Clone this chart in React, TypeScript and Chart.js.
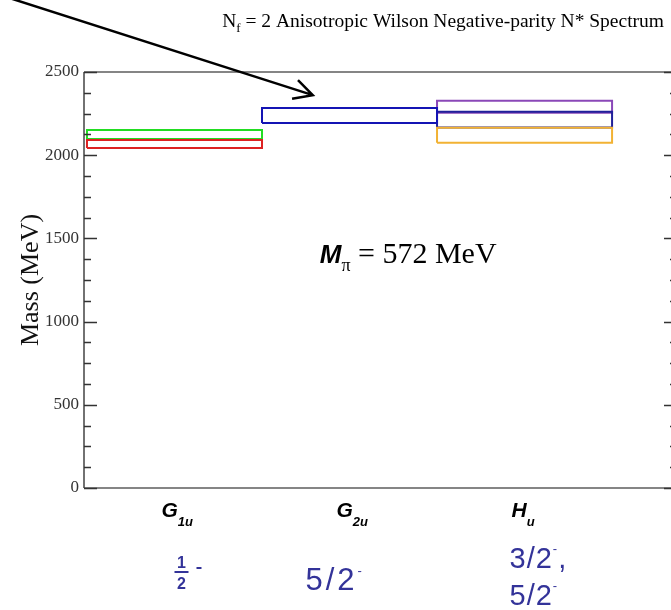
import React, { useEffect, useRef } from 'react';
import { Chart, registerables } from 'chart.js';

Chart.register(...registerables);

// Lattice irreps along the horizontal axis
const irrepPositions = [1, 2, 3];
const irrepLetters = ['G', 'G', 'H'];
const irrepSubscripts = ['1u', '2u', 'u'];

// Continuum spins contained in each irrep
const irrepSpins = [['1/2'], ['5/2'], ['3/2', '5/2']];

// Energy bands: irrep position, lower and upper edge (MeV)
const levelIrrep = [1, 1, 2, 3, 3, 3];
const levelLow = [2043, 2097, 2193, 2075, 2167, 2255];
const levelHigh = [2091, 2151, 2283, 2165, 2261, 2327];
const levelColors = ['#dd2222', '#22dd22', '#1414b4', '#f2b233', '#20209a', '#8a48b8'];

// Mass axis
const massMin = 0;
const massMax = 2500;
const massMajorStep = 500;
const massMinorStep = 125;

// Pion mass shown on the plot and where the annotation sits
const pionMass = 572;
const pionLabelAt = { x: 1.83, y: 1353 };

// Tip of the arrow pointing at the G2u band
const arrowTip = { x: 1.79, y: 2361 };

const xMin = 0.483;
const xMax = 3.871;

const SERIF = "'Liberation Serif', 'DejaVu Serif', serif";
const SANS = "'Liberation Sans', Arial, sans-serif";
const LABEL_BLUE = '#333399';

type Run = { text: string; font: string; dy?: number; color?: string };

function drawRuns(ctx: CanvasRenderingContext2D, runs: Run[], x: number, y: number, align: 'left' | 'center' | 'right' = 'left') {
  let total = 0;
  for (const r of runs) {
    ctx.font = r.font;
    total += ctx.measureText(r.text).width;
  }
  let cx = align === 'center' ? x - total / 2 : align === 'right' ? x - total : x;
  ctx.textAlign = 'left';
  ctx.textBaseline = 'alphabetic';
  for (const r of runs) {
    ctx.font = r.font;
    ctx.fillStyle = r.color || '#000';
    ctx.fillText(r.text, cx, y + (r.dy || 0));
    cx += ctx.measureText(r.text).width;
  }
  return total;
}

const decorations = {
  id: 'decorations',
  afterDraw(chart: any) {
    const { ctx, chartArea: a, scales } = chart;
    const xs = scales.x;
    const ys = scales.y;
    ctx.save();

    // frame
    ctx.lineCap = 'butt';
    ctx.strokeStyle = '#858585';
    ctx.lineWidth = 2;
    ctx.beginPath();
    ctx.moveTo(a.left, a.top);
    ctx.lineTo(a.right, a.top);
    ctx.moveTo(a.left, a.bottom);
    ctx.lineTo(a.right, a.bottom);
    ctx.stroke();
    ctx.strokeStyle = '#444';
    ctx.lineWidth = 1.5;
    ctx.beginPath();
    ctx.moveTo(a.left, a.top);
    ctx.lineTo(a.left, a.bottom);
    ctx.moveTo(a.right, a.top);
    ctx.lineTo(a.right, a.bottom);
    ctx.stroke();

    // inward ticks on both vertical axes
    ctx.strokeStyle = '#333';
    ctx.lineWidth = 1.3;
    ctx.beginPath();
    for (let v = massMin; v <= massMax; v += massMinorStep) {
      const py = Math.round(ys.getPixelForValue(v)) + 0.5;
      const len = v % massMajorStep === 0 ? 13 : 7;
      ctx.moveTo(a.left, py);
      ctx.lineTo(a.left + len, py);
      ctx.moveTo(a.right, py);
      ctx.lineTo(a.right - len, py);
    }
    ctx.stroke();

    // title
    drawRuns(ctx, [
      { text: 'N', font: `19.5px ${SERIF}` },
      { text: 'f', font: `13px ${SERIF}`, dy: 5 },
      { text: ' = 2 Anisotropic Wilson Negative-parity N* Spectrum', font: `19.5px ${SERIF}` },
    ], 664, 27, 'right');

    // pion mass annotation
    drawRuns(ctx, [
      { text: 'M', font: `bold italic 26px ${SANS}` },
      { text: 'π', font: `18px ${SERIF}`, dy: 8 },
      { text: ' = ' + pionMass + ' MeV', font: `30px ${SERIF}` },
    ], xs.getPixelForValue(pionLabelAt.x), ys.getPixelForValue(pionLabelAt.y), 'left');

    // irrep names under the axis
    irrepPositions.forEach((pos, i) => {
      const px = xs.getPixelForValue(pos);
      drawRuns(ctx, [
        { text: irrepLetters[i], font: `bold italic 21px ${SANS}` },
        { text: irrepSubscripts[i], font: `bold italic 13px ${SANS}`, dy: 9 },
      ], px - 13, 517, 'left');
    });

    // spin content of each irrep
    irrepPositions.forEach((pos, i) => {
      const px = xs.getPixelForValue(pos);
      const spins = irrepSpins[i];
      if (i === 0) {
        // stacked fraction
        const [num, den] = spins[0].split('/');
        const cx = px + 7;
        ctx.fillStyle = LABEL_BLUE;
        ctx.font = `bold 16px ${SANS}`;
        ctx.textAlign = 'center';
        ctx.textBaseline = 'alphabetic';
        ctx.fillText(num, cx, 568);
        ctx.fillText(den, cx, 589);
        ctx.fillRect(cx - 7, 571, 14, 2);
        ctx.fillRect(cx + 15, 567, 5, 2);
        return;
      }
      const left = i === 1 ? px - 44 : px - 15;
      const base0 = i === 1 ? 590 : 568;
      const size = i === 1 ? 31 : 29;
      (ctx as any).letterSpacing = i === 1 ? '3px' : '1px';
      spins.forEach((s, k) => {
        const runs: Run[] = [
          { text: s, font: `${size}px ${SANS}`, color: LABEL_BLUE },
          { text: '-', font: `13px ${SANS}`, dy: -15, color: LABEL_BLUE },
        ];
        if (k < spins.length - 1) runs.push({ text: ',', font: `${size}px ${SANS}`, color: LABEL_BLUE });
        drawRuns(ctx, runs, left, base0 + k * 37, 'left');
      });
      (ctx as any).letterSpacing = '0px';
    });

    // arrow from the corner to the G2u band
    const tx = xs.getPixelForValue(arrowTip.x);
    const ty = ys.getPixelForValue(arrowTip.y);
    const sx = 0;
    const sy = -5;
    const ang = Math.atan2(ty - sy, tx - sx);
    const head = 21;
    const spread = 0.48;
    ctx.strokeStyle = '#000';
    ctx.lineWidth = 2.5;
    ctx.lineJoin = 'miter';
    ctx.beginPath();
    ctx.moveTo(sx, sy);
    ctx.lineTo(tx, ty);
    ctx.moveTo(tx - head * Math.cos(ang - spread), ty - head * Math.sin(ang - spread));
    ctx.lineTo(tx, ty);
    ctx.lineTo(tx - head * Math.cos(ang + spread), ty - head * Math.sin(ang + spread));
    ctx.stroke();

    ctx.restore();
  },
};

function bandOutline(i: number) {
  const c = levelIrrep[i];
  const lo = levelLow[i];
  const hi = levelHigh[i];
  return [
    { x: c - 0.5, y: lo },
    { x: c + 0.5, y: lo },
    { x: c + 0.5, y: hi },
    { x: c - 0.5, y: hi },
    { x: c - 0.5, y: lo },
  ];
}

export default function App() {
  const canvasRef = useRef<HTMLCanvasElement | null>(null);

  useEffect(() => {
    const canvas = canvasRef.current;
    if (!canvas) return;
    const datasets = levelIrrep.map((_, i) => ({
      data: bandOutline(i),
      showLine: true,
      borderColor: levelColors[i],
      backgroundColor: levelColors[i],
      borderWidth: 2,
      pointRadius: 0,
      fill: false,
      tension: 0,
      borderJoinStyle: 'miter' as const,
    }));
    const chart = new Chart(canvas, {
      type: 'scatter',
      data: { datasets },
      options: {
        responsive: false,
        animation: false,
        events: [],
        layout: { padding: { top: 72, right: 23, bottom: 0, left: 0 } },
        plugins: {
          legend: { display: false },
          tooltip: { enabled: false },
          title: { display: false },
        },
        scales: {
          x: {
            type: 'linear',
            min: xMin,
            max: xMax,
            grid: { display: false, drawTicks: false },
            border: { display: false },
            ticks: { display: false },
            afterFit: (s: any) => { s.height = 122; },
          },
          y: {
            type: 'linear',
            min: massMin,
            max: massMax,
            grid: { display: false, drawTicks: false },
            border: { display: false },
            ticks: {
              stepSize: massMajorStep,
              padding: 5,
              color: '#333',
              font: { family: SERIF, size: 17 },
              callback: (v: any) => String(v),
            },
            title: {
              display: true,
              text: 'Mass (MeV)',
              color: '#111',
              font: { family: SERIF, size: 26 },
              padding: { top: 16, bottom: 0 },
            },
            afterFit: (s: any) => { s.width = 84; },
          },
        },
      },
      plugins: [decorations],
    });
    return () => chart.destroy();
  }, []);

  return (
    <div style={{ position: 'absolute', left: 0, top: 0, width: 671, height: 610, overflow: 'hidden', background: '#fff' }}>
      <canvas ref={canvasRef} width={700} height={610} style={{ width: 700, height: 610, display: 'block' }} />
    </div>
  );
}
